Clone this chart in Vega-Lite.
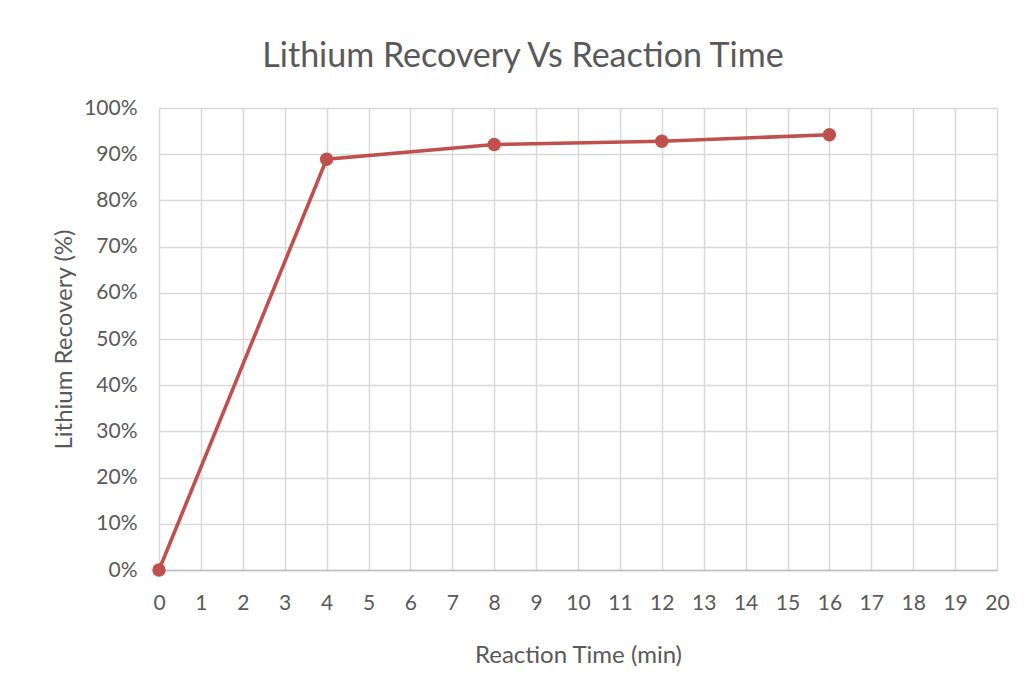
{
  "$schema": "https://vega.github.io/schema/vega-lite/v6.json",
  "autosize": "none",
  "width": 838,
  "height": 462,
  "padding": {"left": 159, "top": 108, "right": 29, "bottom": 115},
  "background": "white",
  "title": {
    "text": "Lithium Recovery Vs Reaction Time",
    "font": "Lato",
    "fontSize": 34,
    "fontWeight": "normal",
    "color": "#595959",
    "anchor": "middle",
    "offset": 23,
    "dx": -55
  },
  "config": {
    "view": {"stroke": null},
    "axis": {
      "labelFont": "Lato",
      "titleFont": "Lato",
      "labelFontSize": 21,
      "titleFontSize": 24,
      "titleFontWeight": "normal",
      "labelColor": "#595959",
      "titleColor": "#595959",
      "gridColor": "#d9d9d9",
      "gridWidth": 1.5,
      "ticks": false
    }
  },
  "data": {
    "values": [
      {"time": 0, "recovery": 0},
      {"time": 4, "recovery": 0.889},
      {"time": 8, "recovery": 0.921},
      {"time": 12, "recovery": 0.928},
      {"time": 16, "recovery": 0.942}
    ]
  },
  "encoding": {
    "x": {
      "field": "time",
      "type": "quantitative",
      "scale": {"domain": [0, 20], "nice": false},
      "axis": {
        "title": "Reaction Time (min)",
        "values": [0,1,2,3,4,5,6,7,8,9,10,11,12,13,14,15,16,17,18,19,20],
        "labelPadding": 22,
        "titlePadding": 30,
        "domainColor": "#bfbfbf",
        "domainWidth": 1.5,
        "labelFlush": false
      }
    },
    "y": {
      "field": "recovery",
      "type": "quantitative",
      "scale": {"domain": [0, 1], "nice": false},
      "axis": {
        "title": "Lithium Recovery (%)",
        "format": ".0%",
        "values": [0,0.1,0.2,0.3,0.4,0.5,0.6,0.7,0.8,0.9,1.0],
        "labelPadding": 22,
        "titlePadding": 7,
        "domain": false,
        "labelFlush": false
      }
    }
  },
  "layer": [
    {"mark": {"type": "line", "color": "#c0504d", "strokeWidth": 3.6}},
    {"mark": {"type": "point", "filled": true, "color": "#c0504d", "size": 180, "opacity": 1}}
  ]
}
